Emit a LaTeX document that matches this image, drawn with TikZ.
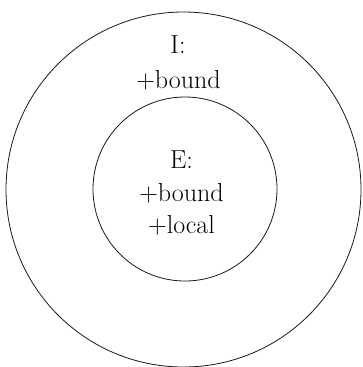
\documentclass[tikz,border=0pt]{standalone}
\begin{document}
\begin{tikzpicture}[x=1pt,y=-1pt,
  ring/.style={draw=black!90,line width=0.8pt},
  lbl/.style={anchor=base,inner sep=0pt,font=\fontsize{26}{32}\selectfont,text=black}]
\useasboundingbox (0,0) rectangle (362,367);
\draw[ring] (183.5,189.5) circle[radius=177.5];
\draw[ring] (185,189) circle[radius=92];
\node[lbl] (i1) at (178,53) {I:};
\node[lbl] (i2) at (178.5,88) {+bound};
\node[lbl] (e1) at (181.5,168) {E:};
\node[lbl] (e2) at (181.5,201) {+bound};
\node[lbl] (e3) at (181.5,233) {+local};
\end{tikzpicture}
\end{document}
